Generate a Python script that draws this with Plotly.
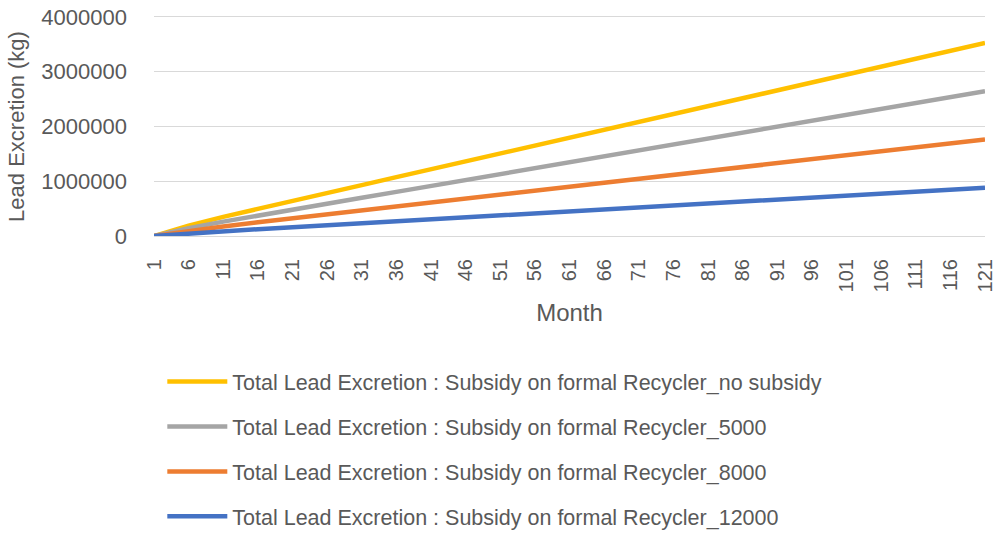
import plotly.graph_objects as go

months = [1, 6, 11, 16, 21, 26, 31, 36, 41, 46, 51, 56, 61, 66, 71, 76, 81, 86, 91, 96, 101, 106, 111, 116, 121]

no_subsidy = [0, 190000, 350000, 500000, 640000, 785000, 930000, 1075000, 1220000, 1365000,
              1510000, 1655000, 1800000, 1945000, 2090000, 2235000, 2380000, 2525000, 2665000,
              2810000, 2950000, 3095000, 3240000, 3385000, 3525000]
subsidy_5000 = [0, 142000, 262000, 375000, 480000, 589000, 698000, 806000, 915000, 1024000,
                1133000, 1241000, 1350000, 1459000, 1568000, 1676000, 1785000, 1894000, 1999000,
                2108000, 2213000, 2321000, 2430000, 2539000, 2645000]
subsidy_8000 = [0, 95000, 175000, 250000, 320000, 392000, 465000, 538000, 610000, 682000,
                755000, 828000, 900000, 972000, 1045000, 1118000, 1190000, 1262000, 1332000,
                1405000, 1475000, 1548000, 1620000, 1692000, 1762000]
subsidy_12000 = [0, 47000, 87000, 125000, 160000, 196000, 232000, 269000, 305000, 341000,
                 378000, 414000, 450000, 486000, 522000, 559000, 595000, 631000, 666000,
                 702000, 738000, 774000, 810000, 846000, 881000]

series_names = [
    "Total Lead Excretion : Subsidy on formal Recycler_no subsidy",
    "Total Lead Excretion : Subsidy on formal Recycler_5000",
    "Total Lead Excretion : Subsidy on formal Recycler_8000",
    "Total Lead Excretion : Subsidy on formal Recycler_12000",
]
series_values = [no_subsidy, subsidy_5000, subsidy_8000, subsidy_12000]
colors = ["#FFC000", "#A5A5A5", "#ED7D31", "#4472C4"]

y_ticks = [0, 1000000, 2000000, 3000000, 4000000]
x_ticks = months

FONT = "Liberation Sans, Arial, sans-serif"
GREY = "#595959"
GRID = "#D9D9D9"

fig = go.Figure()
for i, (name, vals, col) in enumerate(zip(series_names, series_values, colors)):
    fig.add_trace(go.Scatter(
        x=months, y=vals, mode="lines", name=name, legendgroup=f"g{i}",
        line=dict(color=col, width=4.5),
    ))

fig.update_layout(
    width=1000, height=533,
    margin=dict(l=154, r=15, t=17, b=297, autoexpand=False),
    plot_bgcolor="white", paper_bgcolor="white",
    font=dict(family=FONT, color=GREY),
    showlegend=True,
    legend=dict(
        x=0.01, y=-0.571, xanchor="left", yanchor="top",
        font=dict(family=FONT, size=21.5, color=GREY),
        tracegroupgap=14, itemwidth=60,
        bgcolor="rgba(0,0,0,0)",
    ),
)
fig.update_xaxes(
    range=[1, 121], tickmode="array", tickvals=x_ticks, ticktext=[str(v) for v in x_ticks],
    tickangle=-90, tickfont=dict(size=20, color=GREY, family=FONT),
    showgrid=False, zeroline=False, showline=True, mirror=True, linecolor=GRID, linewidth=1,
    ticks="", ticklabelstandoff=14, automargin=False, ticklabeloverflow="allow",
    title=dict(text="Month", font=dict(size=24, color=GREY, family=FONT), standoff=12),
)
fig.update_yaxes(
    range=[0, 4000000], tickmode="array", tickvals=y_ticks, ticktext=[str(v) for v in y_ticks],
    tickfont=dict(size=22, color=GREY, family=FONT),
    showgrid=True, gridcolor=GRID, gridwidth=1, zeroline=False, showline=False,
    ticks="", ticklabelstandoff=26, automargin=False, ticklabeloverflow="allow",
    title=dict(text="Lead Excretion (kg)", font=dict(size=22, color=GREY, family=FONT), standoff=10),
)

fig.write_html("out.html", config={"displayModeBar": False},
               post_script="document.body.style.margin='0';")
